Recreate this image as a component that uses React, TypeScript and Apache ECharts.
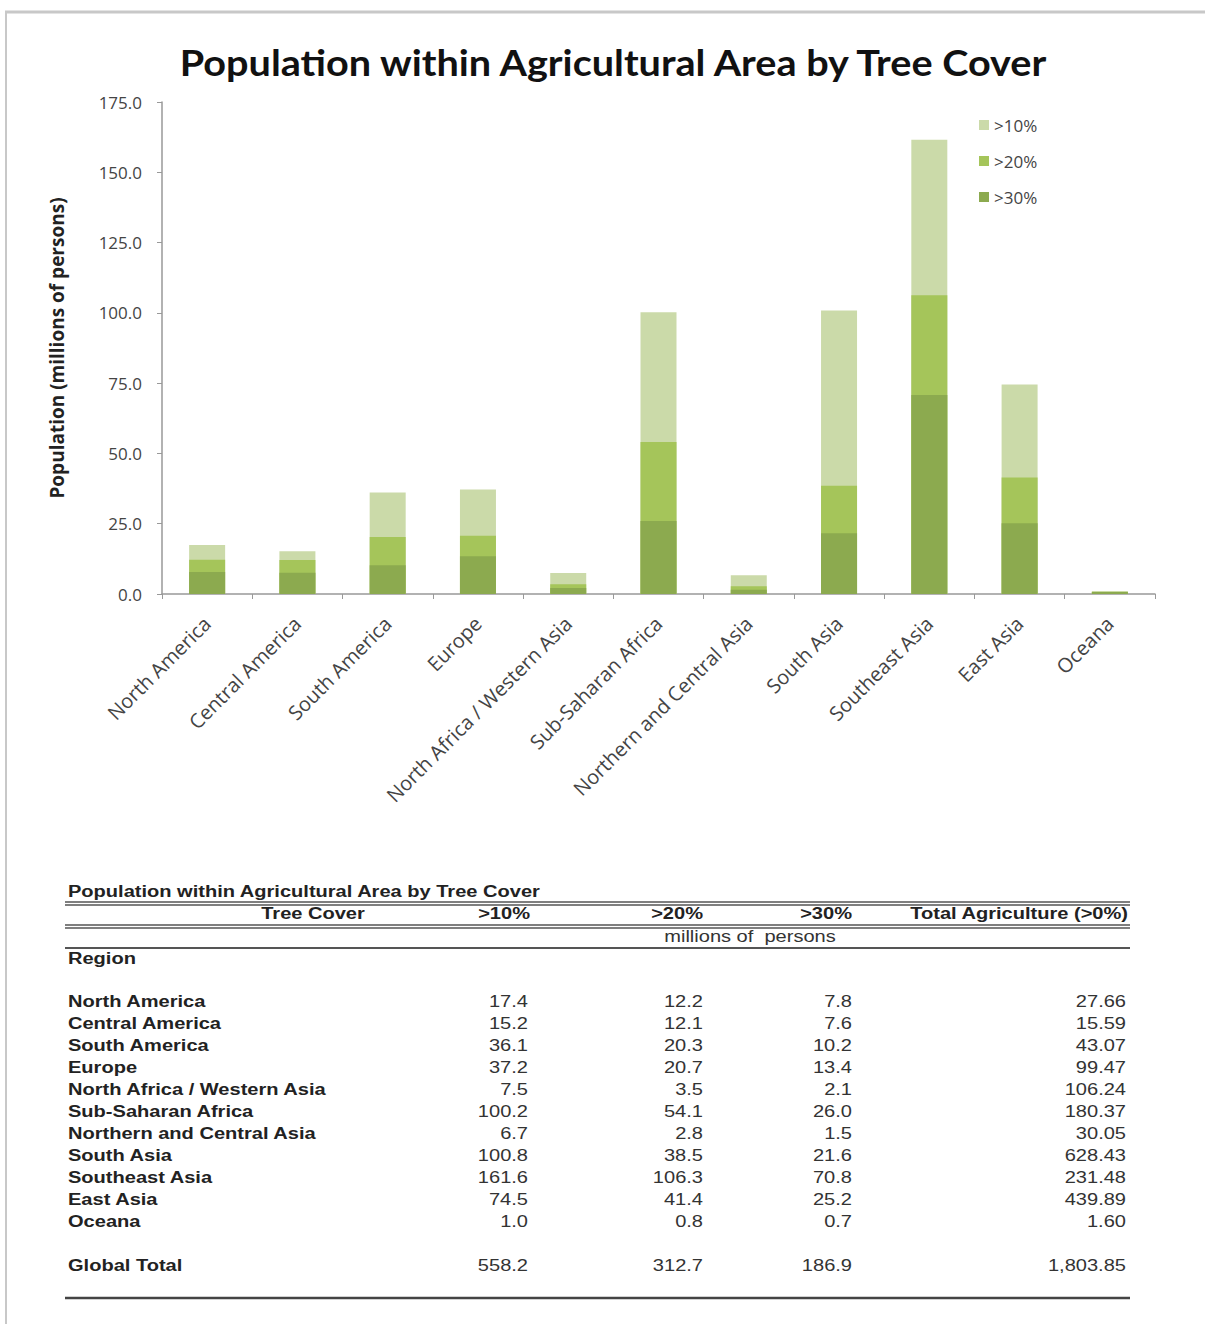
import React, { useEffect, useRef } from "react";
import * as echarts from "echarts";

const regions = [
  "North America",
  "Central America",
  "South America",
  "Europe",
  "North Africa / Western Asia",
  "Sub-Saharan Africa",
  "Northern and Central Asia",
  "South Asia",
  "Southeast Asia",
  "East Asia",
  "Oceana",
];
const cover10 = [17.4, 15.2, 36.1, 37.2, 7.5, 100.2, 6.7, 100.8, 161.6, 74.5, 1.0];
const cover20 = [12.2, 12.1, 20.3, 20.7, 3.5, 54.1, 2.8, 38.5, 106.3, 41.4, 0.8];
const cover30 = [7.8, 7.6, 10.2, 13.4, 2.1, 26.0, 1.5, 21.6, 70.8, 25.2, 0.7];
const totalAg = ["27.66", "15.59", "43.07", "99.47", "106.24", "180.37", "30.05", "628.43", "231.48", "439.89", "1.60"];
const globalTotals = ["558.2", "312.7", "186.9", "1,803.85"];
const seriesNames = [">10%", ">20%", ">30%"];
const yTicks = { min: 0, max: 175, interval: 25 };

const C10 = "#cbdaa9";
const C20 = "#a5c55a";
const C30 = "#8caa4f";

export default function App() {
  const ref = useRef<HTMLDivElement>(null);
  useEffect(() => {
    if (!ref.current) return;
    const chart = echarts.init(ref.current, undefined, { renderer: "svg" });

    const tf = "'Liberation Sans', Arial, sans-serif";
    const sx = 1.18;
    const fs = 17;
    const graphics: any[] = [];
    const txt = (x: number, y: number, s: string, align: string, bold: boolean, color = "#222") => {
      graphics.push({
        type: "text",
        x,
        y,
        scaleX: sx,
        style: {
          text: s,
          x: 0,
          y: 0,
          align,
          verticalAlign: "middle",
          font: `${bold ? "bold " : ""}${fs}px ${tf}`,
          fill: color,
        },
      });
    };
    const hline = (y: number, w: number, color = "#555") => {
      graphics.push({
        type: "line",
        shape: { x1: 65, y1: y, x2: 1130, y2: y },
        style: { stroke: color, lineWidth: w },
      });
    };
    // frame
    graphics.push({ type: "line", shape: { x1: 5, y1: 12, x2: 1205, y2: 12 }, style: { stroke: "#c8c8c8", lineWidth: 3 } });
    graphics.push({ type: "line", shape: { x1: 6, y1: 12, x2: 6, y2: 1324 }, style: { stroke: "#c8c8c8", lineWidth: 2 } });
    // chart title
    graphics.push({
      type: "text",
      x: 613,
      y: 62,
      scaleX: 1.1,
      style: {
        text: "Population within Agricultural Area by Tree Cover",
        x: 0,
        y: 0,
        align: "center",
        verticalAlign: "middle",
        font: "bold 36px Lato, 'Open Sans', sans-serif",
        fill: "#111",
      },
    });
    // table
    txt(68, 891, "Population within Agricultural Area by Tree Cover", "left", true);
    hline(902, 1.5);
    hline(905, 1.5);
    txt(313, 913, "Tree Cover", "center", true);
    txt(530, 913, ">10%", "right", true);
    txt(703, 913, ">20%", "right", true);
    txt(852, 913, ">30%", "right", true);
    txt(1128, 913, "Total Agriculture (>0%)", "right", true);
    hline(925, 1.5);
    hline(928, 1.5);
    txt(750, 936, "millions of  persons", "center", false, "#333");
    hline(948, 1.8);
    txt(68, 958, "Region", "left", true);
    regions.forEach((r, i) => {
      const y = 1001 + i * 22;
      txt(68, y, r, "left", true);
      txt(528, y, cover10[i].toFixed(1), "right", false, "#333");
      txt(703, y, cover20[i].toFixed(1), "right", false, "#333");
      txt(852, y, cover30[i].toFixed(1), "right", false, "#333");
      txt(1126, y, totalAg[i], "right", false, "#333");
    });
    txt(68, 1265, "Global Total", "left", true);
    txt(528, 1265, globalTotals[0], "right", false, "#333");
    txt(703, 1265, globalTotals[1], "right", false, "#333");
    txt(852, 1265, globalTotals[2], "right", false, "#333");
    txt(1126, 1265, globalTotals[3], "right", false, "#333");
    hline(1298, 2.5, "#444");

    const cf = "'Open Sans', sans-serif";
    const barCommon = { type: "bar", barWidth: 36, barGap: "-100%" };
    chart.setOption({
      animation: false,
      backgroundColor: "#fff",
      grid: { left: 162, right: 50, top: 102, bottom: 730, containLabel: false },
      legend: {
        orient: "vertical",
        left: 974,
        top: 111,
        itemWidth: 10,
        itemHeight: 10,
        itemGap: 18,
        icon: "rect",
        data: seriesNames,
        textStyle: { fontSize: 17, lineHeight: 18, color: "#444", fontFamily: cf },
      },
      xAxis: {
        type: "category",
        data: regions,
        boundaryGap: true,
        axisLine: { lineStyle: { color: "#999", width: 1.5 } },
        axisTick: { show: true, length: 5, lineStyle: { color: "#999" } },
        axisLabel: { rotate: 45, interval: 0, fontSize: 20, color: "#444", fontFamily: cf, margin: 26 },
      },
      yAxis: {
        type: "value",
        min: yTicks.min,
        max: yTicks.max,
        interval: yTicks.interval,
        name: "Population (millions of persons)",
        nameLocation: "middle",
        nameGap: 96,
        nameTextStyle: { fontSize: 19, fontWeight: "bold", color: "#222", fontFamily: cf },
        axisLine: { show: true, lineStyle: { color: "#999", width: 1.5 } },
        axisTick: { show: true, length: 5, lineStyle: { color: "#999" } },
        axisLabel: { formatter: (v: number) => v.toFixed(1), fontSize: 17, color: "#444", fontFamily: cf, margin: 20 },
        splitLine: { show: false },
      },
      series: [
        { ...barCommon, name: seriesNames[0], data: cover10, itemStyle: { color: C10 } },
        { ...barCommon, name: seriesNames[1], data: cover20, itemStyle: { color: C20 } },
        { ...barCommon, name: seriesNames[2], data: cover30, itemStyle: { color: C30 } },
      ],
      graphic: { elements: graphics },
    });
    return () => chart.dispose();
  }, []);
  return (
    <div
      ref={ref}
      style={{ position: "absolute", left: 0, top: 0, width: 1205, height: 1324 }}
    />
  );
}
